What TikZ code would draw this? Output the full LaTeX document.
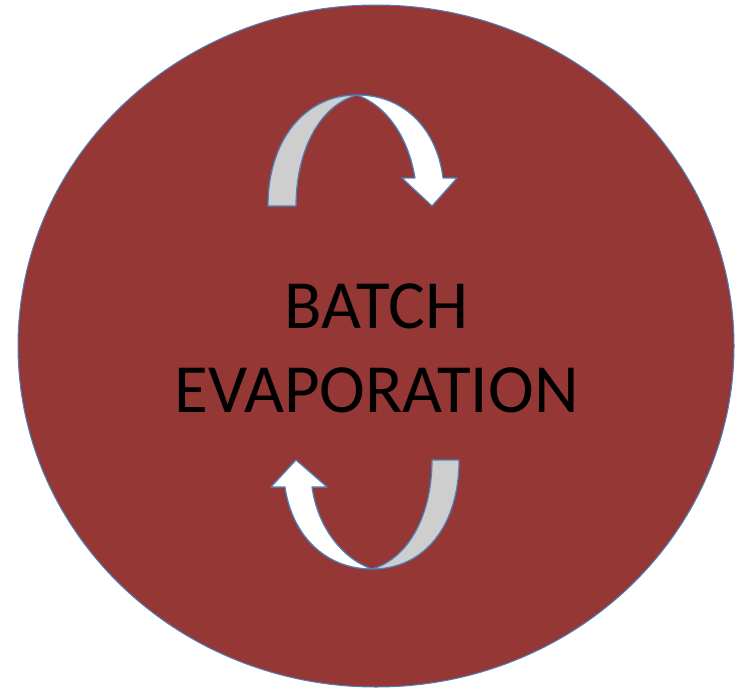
\documentclass[tikz,border=0pt]{standalone}
\usepackage{fontspec}
\setmainfont{Carlito}
\usetikzlibrary{shapes.geometric}
\definecolor{batchred}{RGB}{149,55,53}
\definecolor{rimblue}{RGB}{79,129,189}
\definecolor{backgray}{RGB}{206,206,206}
\begin{document}
\begin{tikzpicture}[x=1pt, y=-1pt, line join=round,
  rim/.style={draw=rimblue, line width=1.2pt},
  back side/.style={rim, fill=backgray},
  front side/.style={rim, fill=white}]
\useasboundingbox (0,0) rectangle (738,693);
% the big disc
\node[ellipse, draw=rimblue, fill=batchred, line width=1pt, minimum width=716pt, minimum height=682pt, inner sep=0pt] (disc) at (376,346) {};
\begin{scope}[every node/.style={font=\fontsize{69}{84}\selectfont, text=black, inner sep=0pt}]
\node[anchor=base] (batch) at (376.5,328) {BATCH};
\node[anchor=base] (evap) at (376.5,412) {EVAPORATION};
\end{scope}
% upper arrow
\coordinate (topapex) at (357,95);
\draw[back side] (268,206) .. controls (268,140) and (305,95) .. (topapex)
  .. controls (320,105) and (296,150) .. (296,206) -- cycle;
\draw[front side] (topapex) .. controls (405,95) and (437,130) .. (443,178)
  -- (457,178) -- (432,206) -- (402,178) -- (415,178)
  .. controls (408,135) and (385,105) .. (topapex) -- cycle;
% lower arrow
\coordinate (botapex) at (372,569);
\draw[back side] (459,460) .. controls (459,525) and (425,569) .. (botapex)
  .. controls (405,560) and (432,520) .. (432,460) -- cycle;
\draw[front side] (botapex) .. controls (325,569) and (292,535) .. (285,487)
  -- (271,487) -- (296,460) -- (327,487) -- (312,487)
  .. controls (318,530) and (345,560) .. (botapex) -- cycle;
%\draw (disc) -- (batch);
\end{tikzpicture}
\end{document}
